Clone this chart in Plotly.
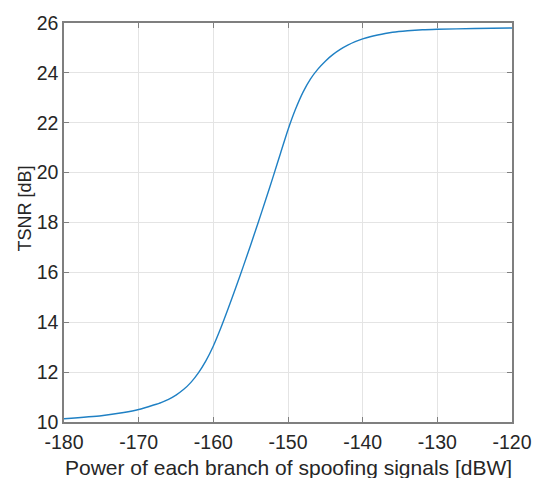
import plotly.graph_objects as go

# Spoofing branch power [dBW] and resulting TSNR [dB]
power_dbw = [-180, -175, -172, -170, -168, -167, -166, -165, -164, -163, -162, -161,
             -160, -159, -158, -157, -156, -155, -154, -153, -152, -151, -150, -149,
             -148, -147, -146, -145, -144, -143, -142, -141, -140, -139, -138, -137,
             -136, -134, -132, -130, -125, -120]
tsnr_db = [10.13, 10.25, 10.38, 10.50, 10.68, 10.78, 10.91, 11.08, 11.30, 11.59, 11.97, 12.45,
           13.05, 13.77, 14.56, 15.38, 16.23, 17.10, 17.99, 18.90, 19.83, 20.78, 21.72, 22.54,
           23.22, 23.75, 24.15, 24.47, 24.73, 24.94, 25.11, 25.25, 25.36, 25.45, 25.52, 25.58,
           25.63, 25.69, 25.73, 25.75, 25.78, 25.80]

x_ticks = [-180, -170, -160, -150, -140, -130, -120]
y_ticks = [10, 12, 14, 16, 18, 20, 22, 24, 26]

font_family = "Liberation Sans, Arial, sans-serif"
text_color = "#262626"
axis_color = "#7f7f7f"
grid_color = "#e4e4e4"

fig = go.Figure()
fig.add_trace(go.Scatter(
    x=power_dbw, y=tsnr_db, mode="lines",
    line=dict(color="#1f80c4", width=1.4, shape="spline", smoothing=0.6),
    showlegend=False,
))

common_axis = dict(
    showline=True, linecolor=axis_color, linewidth=1.5, mirror="ticks",
    ticks="inside", ticklen=5, tickcolor=axis_color, tickwidth=1,
    showgrid=True, gridcolor=grid_color, gridwidth=1, zeroline=False,
    tickfont=dict(family=font_family, size=19.5, color=text_color),
)

fig.update_xaxes(
    range=[-180, -120], tickvals=x_ticks, ticktext=[str(v) for v in x_ticks],
    ticklabelstandoff=2,
    **common_axis,
)
fig.update_yaxes(
    range=[10, 26], tickvals=y_ticks, ticktext=[str(v) for v in y_ticks],
    **common_axis,
)

# Axis titles placed as paper-anchored text
fig.add_annotation(
    text="Power of each branch of spoofing signals [dBW]",
    xref="paper", yref="paper", x=0.5, y=-0.079, xanchor="center", yanchor="top",
    showarrow=False, font=dict(family=font_family, size=21, color=text_color),
)
fig.add_annotation(
    text="TSNR [dB]", textangle=-90,
    xref="paper", yref="paper", x=-0.087, y=0.535, xanchor="center", yanchor="middle",
    showarrow=False, font=dict(family=font_family, size=18, color=text_color),
)

fig.update_layout(
    width=544, height=478,
    margin=dict(l=64, r=21, t=20, b=56),
    paper_bgcolor="white", plot_bgcolor="white",
)

fig.write_html("out.html")
